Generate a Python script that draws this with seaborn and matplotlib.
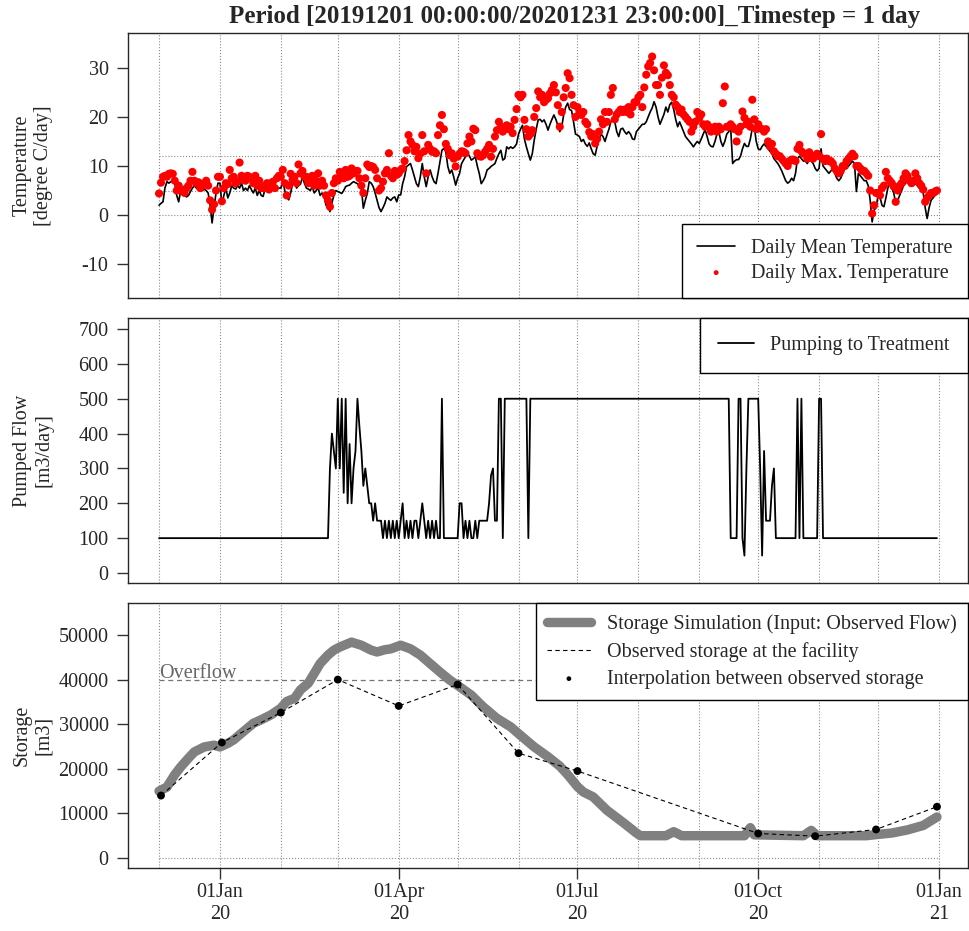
import pandas as pd
import matplotlib
matplotlib.use('Agg')
import matplotlib.pyplot as plt
import matplotlib.dates as mdates
import seaborn as sns

title = 'Period [20191201 00:00:00/20201231 23:00:00]_Timestep = 1 day'
start_day = '2019-12-01'
end_day = '2020-12-31'

# daily mean temperature, degree C (one line per month, Dec 2019 .. Dec 2020)
temp_mean = [
    2.0, 2.4, 2.7, 5.5, 6.8, 6.5, 6.8, 6.8, 6.5, 4.0, 2.7, 5.0, 4.5, 4.0, 3.7, 4.0, 4.8, 5.5, 6.0, 5.5, 5.3, 5.0, 5.0, 5.3, 5.0, 4.5, 2.0, -1.6, 1.5, 4.5, 6.5,
    6.5, 2.2, 4.0, 5.5, 3.5, 4.5, 6.0, 5.5, 5.3, 6.0, 5.5, 6.5, 5.0, 5.5, 5.0, 6.0, 5.2, 4.5, 5.5, 4.0, 5.0, 4.0, 3.8, 5.5, 6.0, 5.0, 5.5, 5.2, 5.0, 5.4, 5.5,
    5.5, 7.0, 5.0, 3.7, 3.1, 4.5, 6.5, 7.0, 5.5, 6.0, 6.3, 7.8, 6.5, 5.5, 5.3, 5.0, 5.8, 4.5, 5.0, 5.5, 4.0, 4.5, 3.8, 2.0, 1.7, 0.7, 2.5, 4.0, 5.0,
    4.8, 4.6, 4.4, 5.0, 5.8, 6.0, 6.1, 6.5, 6.8, 6.6, 6.4, 5.8, 5.4, 1.4, 3.0, 4.4, 6.8, 6.5, 5.8, 4.5, 3.0, 1.5, 0.7, 1.5, 2.4, 3.7, 3.3, 3.0, 3.5, 3.7, 2.7,
    4.1, 4.1, 6.4, 7.8, 9.9, 10.2, 10.5, 9.2, 7.8, 6.4, 5.8, 7.8, 10.5, 7.8, 5.8, 7.8, 9.2, 7.8, 6.8, 6.4, 8.5, 10.9, 13.2, 13.6, 12.9, 9.9, 8.5, 9.2, 7.8, 6.1,
    7.5, 8.5, 10.5, 11.2, 11.9, 12.6, 12.0, 11.2, 11.5, 11.9, 10.0, 8.5, 6.4, 7.0, 7.8, 9.2, 9.5, 9.9, 10.2, 10.5, 11.6, 12.5, 13.2, 11.2, 11.5, 13.9, 13.5, 13.9, 13.6, 13.9, 14.5,
    16.5, 17.5, 18.3, 15.5, 13.9, 12.5, 11.2, 12.5, 15.3, 17.5, 19.4, 19.5, 19.0, 19.4, 18.5, 17.3, 18.5, 19.5, 20.4, 19.5, 18.3, 17.0, 18.0, 20.5, 22.0, 22.8, 21.5, 21.3, 19.0, 16.5,
    16.3, 16.0, 15.0, 15.4, 14.5, 14.0, 14.7, 13.5, 12.5, 12.2, 14.0, 15.5, 16.5, 16.0, 15.0, 16.3, 17.5, 19.0, 19.7, 19.0, 17.0, 16.0, 17.5, 17.7, 17.0, 16.5, 17.0, 16.5, 15.5, 15.4, 17.0,
    17.5, 18.0, 18.5, 18.5, 19.0, 20.0, 21.0, 21.8, 23.1, 22.0, 20.0, 18.5, 19.5, 20.5, 22.0, 21.0, 22.5, 23.0, 21.5, 19.5, 18.0, 19.0, 18.0, 17.0, 16.0, 15.5, 15.0, 14.5, 13.9, 14.5, 15.0,
    14.6, 15.5, 16.5, 17.4, 16.0, 14.5, 14.0, 13.9, 15.0, 16.5, 17.0, 15.0, 14.0, 15.0, 16.5, 17.0, 17.7, 10.5, 11.0, 11.3, 11.3, 12.0, 13.5, 14.6, 14.0, 14.0, 15.5, 17.7, 18.0, 15.0,
    13.5, 13.3, 14.0, 14.5, 14.0, 13.5, 13.0, 12.5, 11.5, 11.0, 10.5, 9.8, 9.0, 8.0, 7.0, 6.5, 6.8, 7.5, 7.0, 8.5, 11.5, 12.0, 11.5, 11.0, 11.0, 10.5, 11.5, 11.0, 10.5, 9.5, 9.0,
    9.5, 13.5, 10.0, 9.5, 9.0, 8.5, 9.0, 9.5, 8.5, 7.5, 7.0, 7.5, 8.5, 9.5, 9.5, 10.0, 10.5, 11.0, 10.5, 4.8, 8.5, 8.0, 7.5, 7.0, 7.0, 6.0, 3.0, -1.4, 1.0, 1.5,
    4.0, 3.7, 2.0, 1.7, 3.5, 5.5, 6.5, 5.5, 4.5, 2.4, 3.0, 4.0, 5.0, 6.0, 6.5, 7.0, 6.5, 6.0, 6.0, 6.5, 6.0, 5.5, 5.0, 4.5, 1.5, -0.7, 1.5, 3.0, 3.5, 4.0, 4.3,
]

# daily maximum temperature, degree C
temp_max = [
    4.4, 6.6, 7.8, 8.0, 7.8, 8.4, 8.5, 8.4, 7.0, 5.0, 6.0, 5.0, 5.0, 4.5, 5.5, 6.0, 7.0, 8.8, 7.0, 6.5, 6.7, 5.5, 6.0, 6.5, 7.0, 6.0, 3.0, 1.1, 2.2, 5.0, 7.8,
    7.8, 2.8, 5.5, 6.5, 6.3, 9.2, 7.5, 7.8, 6.5, 6.8, 10.7, 8.0, 7.5, 7.0, 8.0, 7.8, 7.5, 6.5, 8.0, 6.0, 7.0, 5.5, 5.5, 6.0, 6.5, 5.2, 6.5, 6.8, 5.5, 7.5, 8.0,
    7.8, 9.2, 6.5, 4.0, 6.0, 8.4, 7.2, 7.8, 6.5, 10.3, 8.5, 9.0, 7.8, 7.8, 6.5, 7.0, 8.0, 6.0, 7.0, 8.5, 6.0, 7.0, 6.0, 4.0, 3.0, 1.7, 4.5, 6.5, 7.5,
    7.0, 8.8, 8.0, 7.5, 9.2, 7.8, 8.0, 9.5, 8.5, 9.0, 9.0, 7.5, 6.0, 4.5, 7.5, 10.3, 9.8, 10.0, 9.8, 9.2, 7.5, 5.0, 5.5, 6.8, 8.5, 9.2, 12.6, 8.0, 7.5, 9.0, 8.2,
    8.5, 9.2, 9.5, 11.0, 13.2, 16.3, 15.0, 14.3, 13.0, 13.9, 11.6, 12.5, 16.3, 13.0, 8.5, 14.3, 13.5, 12.9, 13.0, 12.6, 16.3, 18.3, 20.4, 17.5, 14.5, 13.5, 12.2, 12.6, 11.5, 9.9,
    11.9, 12.5, 13.0, 12.9, 12.6, 14.6, 16.0, 15.0, 17.6, 17.3, 12.6, 12.0, 11.9, 12.2, 12.9, 13.5, 14.3, 11.9, 13.5, 16.0, 17.3, 19.0, 18.0, 17.0, 17.5, 18.3, 17.5, 18.0, 16.7, 19.4, 21.6,
    24.5, 24.0, 24.5, 19.4, 17.5, 16.0, 16.5, 17.3, 20.0, 21.8, 25.2, 24.0, 24.5, 23.0, 23.5, 23.8, 24.8, 25.5, 26.5, 25.0, 22.4, 18.0, 21.0, 24.0, 25.9, 28.9, 27.9, 24.5, 22.4, 20.0,
    22.0, 21.0, 20.4, 21.0, 19.0, 18.5, 16.9, 16.0, 16.5, 14.6, 15.5, 17.0, 19.5, 18.5, 21.0, 19.0, 21.0, 24.5, 25.9, 19.5, 20.5, 21.0, 21.5, 21.0, 21.5, 21.0, 22.0, 20.5, 22.0, 23.0, 23.0,
    24.0, 24.5, 22.0, 26.0, 28.6, 30.3, 31.0, 32.3, 29.5, 26.5, 26.5, 24.5, 28.0, 30.5, 29.0, 28.5, 26.5, 24.5, 24.0, 22.5, 22.0, 21.0, 21.5, 20.5, 20.0, 19.5, 19.0, 17.0, 18.0, 19.0, 21.0,
    19.8, 20.5, 18.5, 18.0, 18.5, 18.0, 17.0, 17.5, 18.0, 17.0, 18.0, 17.5, 22.8, 26.2, 18.0, 18.0, 18.5, 18.0, 17.5, 15.0, 17.0, 18.0, 21.1, 19.8, 18.5, 19.0, 18.0, 23.5, 19.5, 17.5,
    18.5, 17.7, 17.5, 17.0, 17.5, 15.0, 14.0, 14.5, 13.0, 12.5, 12.0, 12.0, 11.5, 11.0, 10.5, 10.0, 11.0, 11.3, 11.3, 11.0, 13.5, 14.3, 13.0, 12.5, 12.5, 11.5, 12.8, 12.0, 11.5, 12.0, 12.5,
    12.0, 16.5, 11.5, 11.0, 11.5, 11.0, 11.0, 10.5, 9.5, 9.0, 8.5, 9.0, 10.0, 10.0, 11.0, 11.5, 12.0, 12.5, 12.0, 10.0, 10.0, 9.5, 9.0, 9.0, 8.5, 8.0, 5.0, 0.3, 2.0, 4.5,
    4.5, 4.0, 5.5, 6.0, 8.8, 7.5, 7.0, 6.5, 5.8, 2.7, 5.0, 6.0, 6.5, 7.5, 8.5, 8.0, 7.0, 6.5, 7.0, 8.5, 7.5, 6.5, 6.0, 5.2, 2.7, 3.5, 4.0, 4.5, 4.5, 4.8, 5.0,
]

# daily pumped flow to treatment, m3/day
pump_flow = [
    100, 100, 100, 100, 100, 100, 100, 100, 100, 100, 100, 100, 100, 100, 100, 100, 100, 100, 100, 100, 100, 100, 100, 100, 100, 100, 100, 100, 100, 100, 100,
    100, 100, 100, 100, 100, 100, 100, 100, 100, 100, 100, 100, 100, 100, 100, 100, 100, 100, 100, 100, 100, 100, 100, 100, 100, 100, 100, 100, 100, 100, 100,
    100, 100, 100, 100, 100, 100, 100, 100, 100, 100, 100, 100, 100, 100, 100, 100, 100, 100, 100, 100, 100, 100, 100, 100, 100, 300, 400, 350, 300,
    500, 300, 500, 230, 500, 200, 370, 200, 300, 350, 500, 420, 350, 250, 300, 250, 200, 200, 150, 200, 150, 150, 150, 100, 150, 100, 150, 100, 150, 100, 150,
    100, 150, 200, 100, 150, 100, 150, 100, 150, 150, 100, 150, 200, 150, 100, 150, 100, 150, 100, 150, 100, 100, 500, 100, 100, 100, 100, 100, 100, 100,
    100, 200, 200, 100, 150, 100, 150, 100, 100, 150, 100, 150, 150, 150, 150, 150, 200, 280, 300, 150, 150, 500, 500, 100, 500, 500, 500, 500, 500, 500, 500,
    500, 500, 500, 500, 500, 100, 500, 500, 500, 500, 500, 500, 500, 500, 500, 500, 500, 500, 500, 500, 500, 500, 500, 500, 500, 500, 500, 500, 500, 500,
    500, 500, 500, 500, 500, 500, 500, 500, 500, 500, 500, 500, 500, 500, 500, 500, 500, 500, 500, 500, 500, 500, 500, 500, 500, 500, 500, 500, 500, 500, 500,
    500, 500, 500, 500, 500, 500, 500, 500, 500, 500, 500, 500, 500, 500, 500, 500, 500, 500, 500, 500, 500, 500, 500, 500, 500, 500, 500, 500, 500, 500, 500,
    500, 500, 500, 500, 500, 500, 500, 500, 500, 500, 500, 500, 500, 500, 500, 500, 100, 100, 100, 100, 500, 500, 100, 50, 300, 500, 500, 500, 500, 500,
    500, 300, 50, 350, 150, 150, 150, 250, 300, 100, 100, 100, 100, 100, 100, 100, 100, 100, 100, 100, 500, 100, 500, 100, 100, 100, 100, 100, 100, 100, 100,
    500, 500, 100, 100, 100, 100, 100, 100, 100, 100, 100, 100, 100, 100, 100, 100, 100, 100, 100, 100, 100, 100, 100, 100, 100, 100, 100, 100, 100, 100,
    100, 100, 100, 100, 100, 100, 100, 100, 100, 100, 100, 100, 100, 100, 100, 100, 100, 100, 100, 100, 100, 100, 100, 100, 100, 100, 100, 100, 100, 100, 100,
]

# simulated storage, m3
storage_dates = [
    '2019-12-01', '2019-12-05', '2019-12-09', '2019-12-12', '2019-12-16', '2019-12-19', '2019-12-24', '2019-12-29',
    '2020-01-01', '2020-01-05', '2020-01-08', '2020-01-12', '2020-01-15', '2020-01-18', '2020-01-22', '2020-01-27',
    '2020-02-01', '2020-02-04', '2020-02-08', '2020-02-11', '2020-02-15', '2020-02-18', '2020-02-21', '2020-02-25', '2020-02-28',
    '2020-03-02', '2020-03-08', '2020-03-13', '2020-03-18', '2020-03-21', '2020-03-25', '2020-03-28',
    '2020-04-02', '2020-04-07', '2020-04-12', '2020-04-17', '2020-04-22', '2020-04-27',
    '2020-05-01', '2020-05-08', '2020-05-14', '2020-05-21', '2020-05-28',
    '2020-06-02', '2020-06-09', '2020-06-16', '2020-06-22', '2020-06-26',
    '2020-07-01', '2020-07-04', '2020-07-09', '2020-07-16', '2020-07-25', '2020-07-31',
    '2020-08-02', '2020-08-15', '2020-08-19', '2020-08-23',
    '2020-09-24', '2020-09-27', '2020-09-29',
    '2020-10-24', '2020-10-28', '2020-10-31',
    '2020-11-25', '2020-12-01', '2020-12-08', '2020-12-16', '2020-12-24', '2020-12-31',
]
storage_sim = [
    15000, 15900, 18700, 20400, 22400, 23800, 24900, 25300,
    24900, 25700, 26500, 28000, 29100, 30200, 31000, 32100,
    33600, 35100, 35800, 37700, 39200, 41400, 43600, 45500, 46600,
    47300, 48400, 47700, 46600, 46200, 46700, 46900,
    47700, 46900, 45500, 43600, 41700, 39900,
    38700, 36500, 33900, 31300, 29400,
    27500, 24900, 22700, 20600, 18700,
    16000, 14800, 13700, 10700, 7700, 5600,
    5000, 5000, 5900, 5000,
    5000, 6800, 5200,
    5000, 6200, 5000,
    5000, 5300, 5600, 6300, 7300, 9200,
]

# observed storage at the facility, m3
obs_dates = ['2019-12-02', '2020-01-02', '2020-02-01', '2020-03-01', '2020-04-01', '2020-05-01',
             '2020-06-01', '2020-07-01', '2020-10-01', '2020-10-30', '2020-11-30', '2020-12-31']
obs_storage = [14000, 25900, 32600, 40000, 34100, 38900, 23500, 19500, 5500, 4900, 6400, 11500]

temp_ref_levels = [0, 5, 12]
overflow_level = 40000

sns.set_style('ticks')
plt.rcParams['font.family'] = ['Liberation Serif', 'DejaVu Serif']
plt.rcParams['font.size'] = 14.5
plt.rcParams['axes.unicode_minus'] = False

days = pd.date_range(start_day, end_day, freq='D')
df_temp = pd.DataFrame({'date': days, 'mean': temp_mean, 'max': temp_max})
df_pump = pd.DataFrame({'date': days, 'flow': pump_flow})
df_sim = pd.DataFrame({'date': pd.to_datetime(storage_dates), 'storage': storage_sim})
df_obs = pd.DataFrame({'date': pd.to_datetime(obs_dates), 'storage': obs_storage})

month_starts = pd.date_range(start_day, '2021-01-01', freq='MS')
pad = pd.Timedelta(days=15.8)

W, H = 970, 931
fig = plt.figure(figsize=(W / 100, H / 100), dpi=100)


def panel(top, bottom):
    return fig.add_axes([128 / W, 1 - bottom / H, 840 / W, (bottom - top) / H])


ax1 = panel(33, 298)
ax2 = panel(318, 583)
ax3 = panel(603, 868)

grid_kw = dict(color='0.55', lw=0.8, ls=':', zorder=0)
for ax in (ax1, ax2, ax3):
    for m in month_starts:
        ax.axvline(m, **grid_kw)

# temperature
ax1.hlines(temp_ref_levels, month_starts[0], month_starts[-1], colors='0.55', lw=0.8, linestyles=':', zorder=0)
sns.lineplot(data=df_temp, x='date', y='mean', ax=ax1, color='black', lw=1.2,
             label='Daily Mean Temperature')
sns.scatterplot(data=df_temp, x='date', y='max', ax=ax1, color='red', s=34, edgecolor='none',
                label='Daily Max. Temperature', zorder=3)

# pumped flow
sns.lineplot(data=df_pump, x='date', y='flow', ax=ax2, color='black', lw=1.3,
             label='Pumping to Treatment')

# storage
ax3.hlines(0, month_starts[0], month_starts[-1], colors='0.55', lw=0.8, linestyles=':', zorder=0)
ax3.hlines(overflow_level, month_starts[0], month_starts[-1], colors='0.45', lw=0.9,
           linestyles=(0, (4, 3)), zorder=1)
ax3.text(month_starts[0], overflow_level + 300, 'Overflow', color='0.4', ha='left', va='baseline')
sns.lineplot(data=df_sim, x='date', y='storage', ax=ax3, color='0.5', lw=6.8,
             solid_capstyle='round', solid_joinstyle='round',
             label='Storage Simulation (Input: Observed Flow)')
sns.lineplot(data=df_obs, x='date', y='storage', ax=ax3, color='black', lw=0.8,
             linestyle=(0, (4, 3)), label='Observed storage at the facility')
sns.scatterplot(data=df_obs, x='date', y='storage', ax=ax3, color='black', s=32, edgecolor='none',
                label='Interpolation between observed storage', zorder=4)

ax1.set_ylim(-16.9, 37.1)
ax1.set_yticks([-10, 0, 10, 20, 30])
ax2.set_ylim(-28.7, 731.6)
ax2.set_yticks(range(0, 701, 100))
ax3.set_ylim(-2240, 57175)
ax3.set_yticks(range(0, 50001, 10000))

for ax in (ax1, ax2, ax3):
    ax.set_xlim(days[0] - pad, days[-1] + pad)
    ax.set_xlabel('')
    ax.set_ylabel('')
    ax.tick_params(axis='y', direction='out', length=8, width=1, pad=6, color='0.2', labelsize=14.5)
    for sp in ax.spines.values():
        sp.set_visible(True)
        sp.set_linewidth(1.0)
        sp.set_color('0.15')

for ax in (ax1, ax2):
    ax.tick_params(axis='x', bottom=False, labelbottom=False)

ax3.xaxis.set_major_locator(mdates.MonthLocator(bymonth=[1, 4, 7, 10]))
ax3.xaxis.set_major_formatter(mdates.DateFormatter('%d%b\n%y'))
ax3.tick_params(axis='x', direction='out', length=8, width=1, pad=3, color='0.2', labelsize=14.5)

leg_kw = dict(frameon=True, fancybox=False, framealpha=1, edgecolor='black', borderaxespad=0,
              fontsize=14.5, handletextpad=0.8)
leg1 = ax1.legend(loc='lower right', handlelength=1.9, markerscale=0.6, labelspacing=0.3,
                  borderpad=0.75, **leg_kw)
leg2 = ax2.legend(loc='upper right', handlelength=1.8, labelspacing=0.3, borderpad=0.9, **leg_kw)
leg3 = ax3.legend(loc='upper right', handlelength=2.2, markerscale=0.6, labelspacing=0.4,
                  borderpad=0.55, **leg_kw)
for leg in (leg1, leg2, leg3):
    leg.get_frame().set_linewidth(1.0)

ylabels = ['Temperature\n[degree C/day]', 'Pumped Flow\n[m3/day]', 'Storage\n[m3]']
for lab, (top, bottom) in zip(ylabels, [(33, 298), (318, 583), (603, 868)]):
    fig.text(33 / W, 1 - (top + bottom) / 2 / H, lab, rotation=90, ha='center', va='center',
             multialignment='center', fontsize=14.5)

fig.text(575 / W, 1 - 16 / H, title, ha='center', va='center', fontweight='bold', fontsize=18)

fig.savefig('out.png', dpi=100)
